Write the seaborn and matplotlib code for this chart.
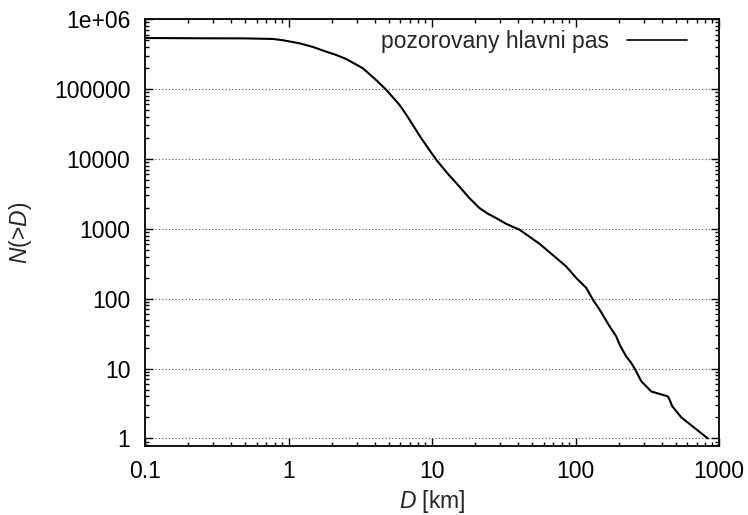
import matplotlib
matplotlib.use("Agg")
import matplotlib.pyplot as plt
import matplotlib.ticker as mticker
import seaborn as sns
import pandas as pd
import numpy as np

# Data
diameter_km = [0.1, 0.24, 0.5, 0.78, 0.913, 1.19, 1.48, 1.83, 2.15, 2.52,
               3.29, 4.08, 4.8, 5.94, 6.61, 8.4, 10.7, 12.9, 15.5, 18.2,
               21.4, 24.5, 28.0, 33.0, 40.7, 56.1, 69.5, 86.1, 101, 119, 132,
               147, 173, 192, 203, 225, 245, 265, 287, 337, 440, 452, 472,
               546, 836]
count_gt_d = [5.35e5, 5.3e5, 5.28e5, 5.18e5, 4.97e5, 4.5e5, 3.98e5, 3.41e5,
              3.06e5, 2.68e5, 1.98e5, 1.34e5, 9.7e4, 5.9e4, 4.3e4, 1.98e4,
              9.7e3, 6.1e3, 4.02e3, 2.75e3, 1.98e3, 1.64e3, 1.42e3, 1.17e3,
              968, 610, 420, 289, 198, 142, 97, 70, 40, 29, 22, 15, 12, 9.1,
              6.6, 4.7, 4.0, 3.6, 2.9, 2.0, 1.0]
series_label = "pozorovany hlavni pas"
x_ticks = [0.1, 1, 10, 100, 1000]
x_ticklabels = ["0.1", "1", "10", "100", "1000"]
y_ticks = [1, 10, 100, 1000, 10000, 100000, 1000000]
y_ticklabels = ["1", "10", "100", "1000", "10000", "100000", "1e+06"]

df = pd.DataFrame({"D": diameter_km, "N": count_gt_d, "series": series_label})

sns.set_style("ticks")
plt.rcParams["font.family"] = ["Liberation Sans", "DejaVu Sans"]
plt.rcParams["mathtext.fontset"] = "custom"
plt.rcParams["mathtext.rm"] = "Liberation Sans"
plt.rcParams["mathtext.it"] = "Liberation Sans:italic"

FS = 16.5

fig = plt.figure(figsize=(7.48, 5.15), dpi=100)
ax = fig.add_axes([145/748, 1-446/515, (719-145)/748, (446-19)/515])

sns.lineplot(data=df, x="D", y="N", hue="series", palette=["black"],
             linewidth=1.5, ax=ax, estimator=None, sort=False)

ax.set_xscale("log")
ax.set_yscale("log")
ax.set_xlim(0.1, 1000)
ax.set_ylim(0.78, 1e6)

ax.set_xticks(x_ticks)
ax.set_xticklabels(x_ticklabels)
ax.set_yticks(y_ticks)
ax.set_yticklabels(y_ticklabels)
ax.xaxis.set_minor_locator(mticker.LogLocator(base=10, subs=np.arange(2, 10)))
ax.yaxis.set_minor_locator(mticker.LogLocator(base=10, subs=np.arange(2, 10)))
ax.xaxis.set_minor_formatter(mticker.NullFormatter())
ax.yaxis.set_minor_formatter(mticker.NullFormatter())

ax.tick_params(which="both", direction="in", top=True, right=True,
               colors="black", labelsize=FS)
ax.tick_params(which="major", length=6, width=1)
ax.tick_params(which="minor", length=3, width=1)
ax.tick_params(axis="x", which="major", pad=10)
ax.tick_params(axis="y", which="major", pad=10.5)

ax.grid(False)
ax.yaxis.grid(True, which="major", color="#555555", linestyle=(0, (1, 2)),
              linewidth=0.8)

for s in ax.spines.values():
    s.set_color("black")
    s.set_linewidth(1.3)

ax.set_xlabel("$D$ [km]", fontsize=FS, labelpad=4)
ax.set_ylabel("$N$(>$D$)", fontsize=FS, labelpad=14)

leg = ax.legend(loc="upper right", frameon=False, fontsize=FS,
                handlelength=2.6, handletextpad=0.8, markerfirst=False,
                bbox_to_anchor=(0.972, 1.012), borderaxespad=0.3)
for h in leg.legend_handles:
    h.set_linewidth(1.2)

fig.savefig("out.png", dpi=100)
